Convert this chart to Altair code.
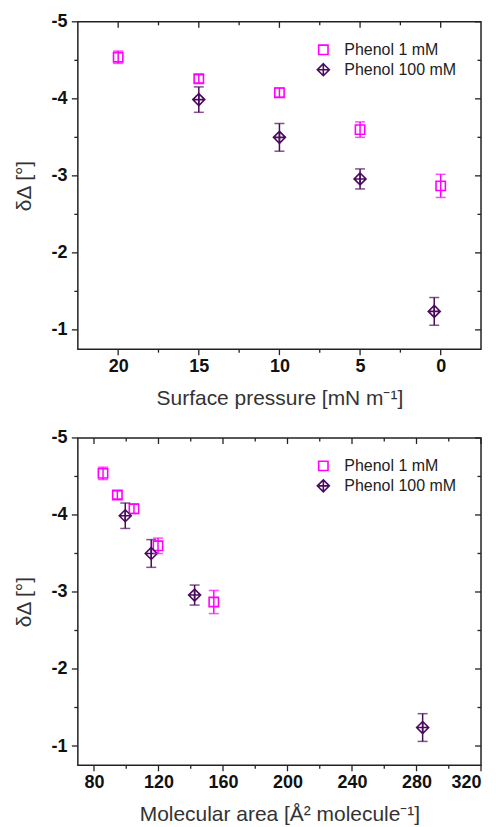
import altair as alt
import pandas as pd

# ---------------- data ----------------
series = ["Phenol 1 mM", "Phenol 100 mM"]
colors = ["#FF00FF", "#4B0A5E"]

# Phenol 1 mM
p1_pressure = [20, 15, 10, 5, 0]
p1_area = [85.6, 94.5, 104.8, 119.7, 154.3]
p1_delta = [-4.54, -4.26, -4.08, -3.60, -2.87]
p1_err = [0.08, 0.05, 0.06, 0.10, 0.15]

# Phenol 100 mM
p100_pressure = [15, 10, 5, 0.4]
p100_area = [99.4, 115.5, 142.4, 283.8]
p100_delta = [-3.99, -3.50, -2.96, -1.24]
p100_err = [0.165, 0.18, 0.13, 0.18]

pressure_ticks = [20, 15, 10, 5, 0]
pressure_minor = [17.5, 12.5, 7.5, 2.5]
area_ticks = [80, 120, 160, 200, 240, 280, 320]
area_minor = [100, 140, 180, 220, 260, 300]
delta_ticks = [-5, -4, -3, -2, -1]
delta_minor = [-4.5, -3.5, -2.5, -1.5]

# ---------------- tables ----------------
rows = []
for s, pr, ar, d, e in [(series[0], p1_pressure, p1_area, p1_delta, p1_err),
                        (series[1], p100_pressure, p100_area, p100_delta, p100_err)]:
    for i in range(len(d)):
        rows.append({"series": s, "pressure": pr[i], "area": ar[i], "delta": d[i],
                     "lo": d[i] - e[i], "hi": d[i] + e[i]})
df = pd.DataFrame(rows)

W, H = 404, 328
MAJ, MIN = 6, 3.5
FRAME = "#222222"
FONT = "Liberation Sans"
SQUARE = "M-0.78,-0.78L0.78,-0.78L0.78,0.78L-0.78,0.78Z"
DIAMOND = "M0,-1L1,0L0,1L-1,0ZM-1,0L1,0M0,-1L0,1"


def panel(xfield, xtitle, xdomain, xrev, xmajor, xminor):
    xscale = alt.Scale(domain=xdomain, reverse=xrev, nice=False, zero=False)
    yscale = alt.Scale(domain=[-5, -0.75], reverse=True, nice=False, zero=False)
    xaxis = alt.Axis(title=xtitle, values=xmajor, ticks=False, domain=False, grid=False,
                     labelPadding=8, titlePadding=12, labelExpr="'' + datum.value")
    yaxis = alt.Axis(title="δΔ [°]", values=delta_ticks, ticks=False, domain=False, grid=False,
                     labelPadding=11, titlePadding=16, labelExpr="'' + datum.value")

    def X(f):
        return alt.X(f, type="quantitative", scale=xscale, axis=xaxis)

    def Y(f):
        return alt.Y(f, type="quantitative", scale=yscale, axis=yaxis)

    legend = alt.Legend(orient="none", legendX=238, legendY=20, title=None,
                        labelFont=FONT, labelFontSize=16, labelColor="#222222",
                        symbolSize=144, symbolStrokeWidth=1.6, rowPadding=2, labelOffset=13)
    color = alt.Color("series:N", scale=alt.Scale(domain=series, range=colors), legend=legend)
    shape = alt.Shape("series:N", scale=alt.Scale(domain=series, range=[SQUARE, DIAMOND]), legend=legend)

    pts = alt.Chart(df).mark_point(filled=False, size=144, strokeWidth=1.6, opacity=1).encode(
        x=X(xfield), y=Y("delta"), color=color, shape=shape
    )
    layers = [pts]
    for s, c in zip(series, colors):
        layers.append(
            alt.Chart(df).transform_filter(alt.datum.series == s)
            .mark_errorbar(ticks={"size": 10}, thickness=1.5, color=c)
            .encode(x=X(xfield), y=Y("lo"), y2="hi")
        )

    for vals, ln in [(xmajor, MAJ), (xminor, MIN)]:
        d = pd.DataFrame({"v": vals})
        layers.append(alt.Chart(d).mark_rule(color=FRAME, strokeWidth=1.3).encode(
            x=X("v"), y=alt.value(H), y2=alt.value(H + ln)))
        layers.append(alt.Chart(d).mark_rule(color=FRAME, strokeWidth=1.3).encode(
            x=X("v"), y=alt.value(0), y2=alt.value(ln)))
    for vals, ln in [(delta_ticks, MAJ), (delta_minor, MIN)]:
        d = pd.DataFrame({"v": vals})
        layers.append(alt.Chart(d).mark_rule(color=FRAME, strokeWidth=1.3).encode(
            y=Y("v"), x=alt.value(-ln), x2=alt.value(0)))
        layers.append(alt.Chart(d).mark_rule(color=FRAME, strokeWidth=1.3).encode(
            y=Y("v"), x=alt.value(W - ln), x2=alt.value(W)))
    return alt.layer(*layers).properties(width=W, height=H)


top = panel("pressure", "Surface pressure [mN m⁻¹]", [-2.5, 22.5], True, pressure_ticks, pressure_minor)
bottom = panel("area", "Molecular area [Å² molecule⁻¹]", [70, 320], False, area_ticks, area_minor)

chart = alt.vconcat(top, bottom, spacing=19).resolve_scale(
    color="independent", shape="independent"
).resolve_legend(color="independent", shape="independent").properties(
    padding={"left": 5, "top": 3, "right": 5, "bottom": 0}
).configure_view(
    stroke=FRAME, strokeWidth=1.5
).configure_axis(
    labelFont=FONT, labelFontSize=18, labelFontWeight="bold", labelColor="#111111",
    titleFont=FONT, titleFontSize=21, titleFontWeight="normal", titleColor="#333333"
)

chart.save("out.html", embed_options={"renderer": "svg", "actions": False})
